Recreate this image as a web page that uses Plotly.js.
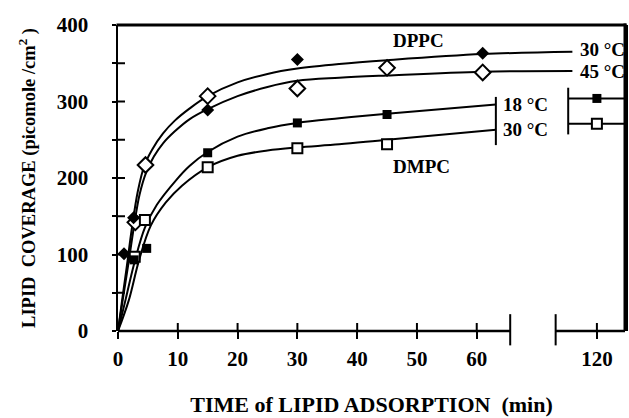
<!DOCTYPE html>
<html>
<head>
<meta charset="utf-8">
<script src="https://cdn.plot.ly/plotly-3.0.1.min.js"></script>
<style>html,body{margin:0;padding:0;background:#fff}#chart{width:629px;height:418px}</style>
</head>
<body>
<div id="chart"></div>
<script>
// ---------- data (time in min, coverage in picomole/cm2) ----------
var xTickValues = [0, 10, 20, 30, 40, 50, 60, 120];
var xTickLabels = ['0', '10', '20', '30', '40', '50', '60', '120'];
var yTickValues = [0, 50, 100, 150, 200, 250, 300, 350, 400];
var yTickLabels = ['0', ' ', '100', ' ', '200', ' ', '300', ' ', '400'];

// measured points
var dppc30Time = [1, 2.6, 15, 30, 61];
var dppc30Cov  = [101, 148, 289, 355, 363];
var dppc45Time = [2.9, 4.6, 15, 30, 45, 61];
var dppc45Cov  = [142, 217, 307, 317, 344, 338];
var dmpc18Time = [2.7, 4.8, 15, 30, 45, 120];
var dmpc18Cov  = [93, 108, 233, 272, 283, 304];
var dmpc30Time = [2.8, 4.5, 15, 30, 45, 120];
var dmpc30Cov  = [97, 145, 214, 239, 244, 271];

// fitted curves
var curveATime = [0, 0.7, 1.5, 2.3, 3.3, 4.4, 5.7, 7.5, 9.5, 12, 15, 20, 25, 30, 37, 45, 61, 76];
var curveACov  = [0, 41, 86, 133, 182, 216, 237, 258, 275, 291, 307, 325, 336, 343, 349, 354, 362, 365];
var curveBTime = [0, 0.8, 1.7, 2.6, 3.6, 4.7, 6, 7.5, 9.5, 12, 15, 20, 25, 30, 37, 45, 61, 76];
var curveBCov  = [0, 41, 86, 133, 178, 207, 228, 245, 261, 277, 290, 307, 319, 327, 331, 334, 339, 340];
var curve18Time = [0, 1.3, 2.7, 4.5, 6.5, 9.7, 12, 15, 20, 25, 30, 37, 45, 63.2];
var curve18Cov  = [0, 42, 88, 135, 165, 197, 216, 234, 254, 265, 272, 278, 284, 296];
var curve30Time = [0, 1.8, 3.5, 5.5, 8, 10.7, 15, 20, 25, 30, 37, 45, 63.2];
var curve30Cov  = [0, 40, 92, 138, 168, 190, 214, 229, 236, 240, 244, 250, 263];
// late (after axis break) flat parts of the DMPC curves
var late18Time = [115.2, 124.7];
var late18Cov  = [304, 304];
var late30Time = [115.2, 124.7];
var late30Cov  = [271, 271];

// ---------- broken axis mapping ----------
var breakStart = 65.6, breakResume = 113.1, gapWidth = 7.6, xMax = 124.7, yMax = 400;
function ax(t) { return t > breakStart + 12 ? t - (breakResume - breakStart - gapWidth) : t; }
function axArr(a) { return a.map(ax); }
var axisMax = ax(xMax);

var FONT = 'Liberation Serif, Times New Roman, serif';
var BLACK = '#000';
var PLOT_W = 507, PLOT_H = 306;

function line(x, y, w) {
  return {x: axArr(x), y: y, mode: 'lines', type: 'scatter', hoverinfo: 'skip',
          line: {color: BLACK, width: w || 2, shape: 'spline', smoothing: 1}, cliponaxis: false, showlegend: false};
}
function pts(x, y, sym, fill, size, lw) {
  return {x: axArr(x), y: y, mode: 'markers', type: 'scatter', cliponaxis: false, showlegend: false,
          marker: {symbol: sym, size: size, color: fill, line: {color: BLACK, width: lw}}};
}

var traces = [
  line(curveATime, curveACov),
  line(curveBTime, curveBCov),
  line(curve18Time, curve18Cov),
  line(curve30Time, curve30Cov),
  line(late18Time, late18Cov),
  line(late30Time, late30Cov),
  pts(dppc45Time, dppc45Cov, 'diamond', '#fff', 12, 2),
  pts(dppc30Time, dppc30Cov, 'diamond', BLACK, 10, 0),
  pts(dmpc30Time, dmpc30Cov, 'square', '#fff', 10, 2),
  pts(dmpc18Time, dmpc18Cov, 'square', BLACK, 9, 0)
];

function px(v) { return v / axisMax; }
var bs = ax(breakStart), br = ax(breakResume);
var halfTop = 1.5 / PLOT_H, halfRight = 1.5 / PLOT_W;
var shapes = [
  // top border as a filled band
  {type: 'rect', xref: 'paper', yref: 'paper', x0: -halfRight, x1: 1 + halfRight, y0: 1 - halfTop, y1: 1 + halfTop,
   fillcolor: BLACK, line: {width: 0}, layer: 'above'},
  // right border as a filled band
  {type: 'rect', xref: 'paper', yref: 'paper', x0: 1 - halfRight, x1: 1 + halfRight, y0: 0, y1: 1 + halfTop,
   fillcolor: BLACK, line: {width: 0}, layer: 'above'},
  {type: 'line', xref: 'paper', yref: 'paper', x0: 0, x1: px(bs), y0: 0, y1: 0, line: {color: BLACK, width: 2.5}},
  {type: 'line', xref: 'paper', yref: 'paper', x0: px(br), x1: 1, y0: 0, y1: 0, line: {color: BLACK, width: 2.5}},
  {type: 'line', xref: 'paper', yref: 'paper', x0: px(bs), x1: px(bs), y0: 0.055, y1: -0.047, line: {color: BLACK, width: 2}},
  {type: 'line', xref: 'paper', yref: 'paper', x0: px(br), x1: px(br), y0: 0.055, y1: -0.047, line: {color: BLACK, width: 2}},
  // break bars on the DMPC curves
  {type: 'line', xref: 'x', yref: 'y', x0: ax(63.2), x1: ax(63.2), y0: 306, y1: 243, line: {color: BLACK, width: 2}},
  {type: 'line', xref: 'x', yref: 'y', x0: ax(115.2), x1: ax(115.2), y0: 318, y1: 257, line: {color: BLACK, width: 2}}
];
// inside halves of the crossing ticks (filled thin bands)
xTickValues.forEach(function (v) {
  var c = px(ax(v));
  shapes.push({type: 'rect', xref: 'paper', yref: 'paper', x0: c - 1 / PLOT_W, x1: c + 1 / PLOT_W, y0: 0, y1: 8 / PLOT_H,
               fillcolor: BLACK, line: {width: 0}});
});
yTickValues.forEach(function (v) {
  var c = v / yMax;
  shapes.push({type: 'rect', xref: 'paper', yref: 'paper', x0: 0, x1: 7 / PLOT_W, y0: c - 1 / PLOT_H, y1: c + 1 / PLOT_H,
               fillcolor: BLACK, line: {width: 0}});
});

var labFont = {family: FONT, size: 19, color: BLACK, weight: 'bold'};
function lab(text, x, y, xanchor, xref) {
  return {text: text, x: x, y: y, xref: xref || 'x', yref: 'y', showarrow: false, font: labFont,
          xanchor: xanchor || 'center', yanchor: 'middle'};
}
var annotations = [
  lab('DPPC', 50.2, 380),
  lab('DMPC', 50.7, 215),
  lab('30 °C', 1.003, 368, 'right', 'paper'),
  lab('45 °C', 1.003, 339, 'right', 'paper'),
  lab('18 °C', 64.1, 296, 'left'),
  lab('30 °C', 64.1, 263, 'left')
];

var tickFont = {family: FONT, size: 21, color: BLACK, weight: 'bold'};
var layout = {
  width: 629, height: 418,
  margin: {l: 118, r: 4, t: 25, b: 87},
  paper_bgcolor: '#fff', plot_bgcolor: '#fff',
  showlegend: false,
  xaxis: {range: [0, axisMax], tickvals: axArr(xTickValues), ticktext: xTickLabels,
          ticks: 'outside', ticklen: 7, tickwidth: 2, tickcolor: BLACK,
          showline: false, zeroline: false, showgrid: false, tickfont: tickFont, ticklabelstandoff: 2,
          title: {text: 'TIME of LIPID ADSORPTION  (min)', font: {family: FONT, size: 22, color: BLACK, weight: 'bold'}, standoff: 26}},
  yaxis: {range: [0, yMax], tickvals: yTickValues, ticktext: yTickLabels,
          ticks: 'outside', ticklen: 4, tickwidth: 2, tickcolor: BLACK,
          showline: true, mirror: true, linewidth: 2.5, linecolor: BLACK,
          zeroline: false, showgrid: false, tickfont: tickFont, ticklabelstandoff: 19,
          title: {text: 'LIPID  COVERAGE (picomole /cm<sup>2</sup> )', font: {family: FONT, size: 18.5, color: BLACK, weight: 'bold'}, standoff: 17}},
  shapes: shapes,
  annotations: annotations
};

Plotly.newPlot('chart', traces, layout, {staticPlot: true, displayModeBar: false});
</script>
</body>
</html>
